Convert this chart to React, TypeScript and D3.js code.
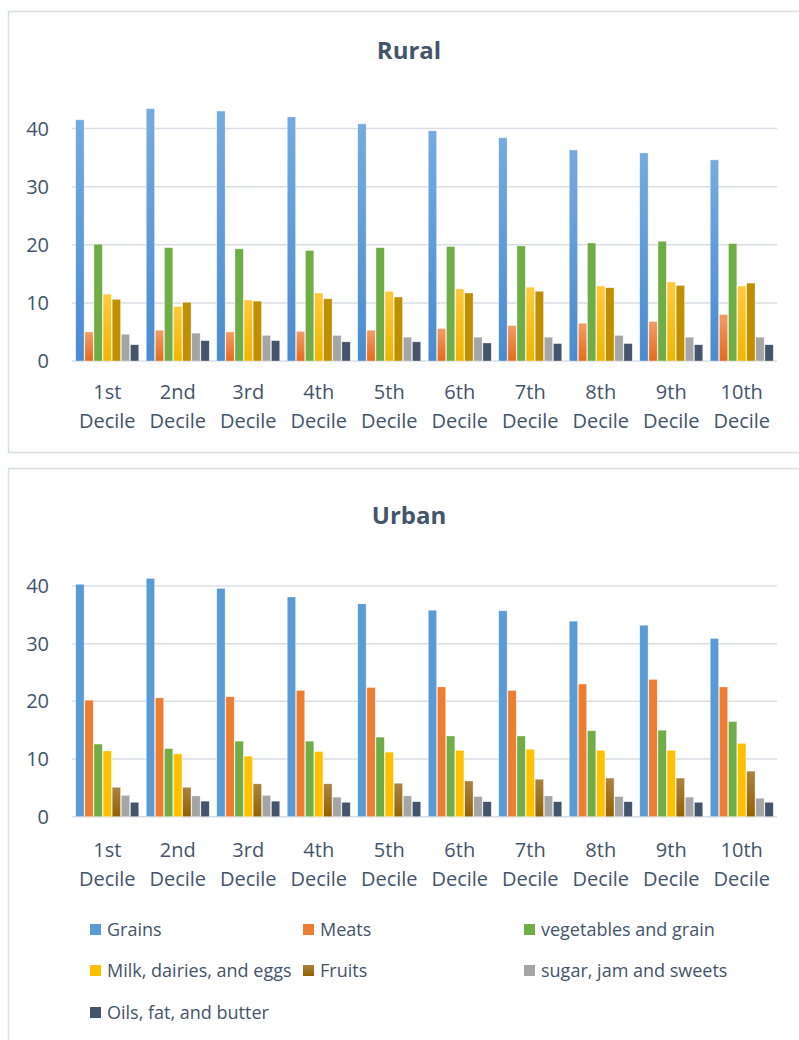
import React from "react";
import * as d3 from "d3";

const categories = ["1st Decile", "2nd Decile", "3rd Decile", "4th Decile", "5th Decile", "6th Decile", "7th Decile", "8th Decile", "9th Decile", "10th Decile"];
const seriesNames = ["Grains", "Meats", "vegetables and grain", "Milk, dairies, and eggs", "Fruits", "sugar, jam and sweets", "Oils, fat, and butter"];
const yTicks = [0, 10, 20, 30, 40];

const ruralGrains = [41.5, 43.4, 43.0, 42.0, 40.8, 39.6, 38.4, 36.3, 35.8, 34.6];
const ruralMeats = [5.0, 5.3, 5.0, 5.1, 5.3, 5.6, 6.1, 6.5, 6.8, 8.0];
const ruralVeg = [20.1, 19.5, 19.3, 19.0, 19.5, 19.7, 19.8, 20.3, 20.6, 20.2];
const ruralMilk = [11.5, 9.4, 10.5, 11.7, 12.0, 12.4, 12.7, 12.9, 13.6, 12.9];
const ruralFruits = [10.6, 10.1, 10.3, 10.7, 11.0, 11.7, 12.0, 12.6, 13.0, 13.4];
const ruralSugar = [4.6, 4.8, 4.4, 4.4, 4.1, 4.1, 4.1, 4.4, 4.1, 4.1];
const ruralOils = [2.8, 3.5, 3.5, 3.3, 3.3, 3.1, 3.0, 3.0, 2.8, 2.8];

const urbanGrains = [40.3, 41.3, 39.6, 38.1, 36.9, 35.8, 35.7, 33.9, 33.2, 30.9];
const urbanMeats = [20.2, 20.6, 20.8, 21.9, 22.4, 22.5, 21.9, 23.0, 23.8, 22.5];
const urbanVeg = [12.6, 11.8, 13.1, 13.1, 13.8, 14.0, 14.0, 14.9, 15.0, 16.5];
const urbanMilk = [11.4, 10.9, 10.5, 11.3, 11.2, 11.5, 11.7, 11.5, 11.5, 12.7];
const urbanFruits = [5.1, 5.1, 5.7, 5.7, 5.8, 6.2, 6.5, 6.7, 6.7, 7.9];
const urbanSugar = [3.7, 3.6, 3.7, 3.4, 3.6, 3.5, 3.6, 3.5, 3.4, 3.2];
const urbanOils = [2.5, 2.7, 2.7, 2.5, 2.6, 2.6, 2.6, 2.6, 2.5, 2.5];

const ruralSeries = [ruralGrains, ruralMeats, ruralVeg, ruralMilk, ruralFruits, ruralSugar, ruralOils];
const urbanSeries = [urbanGrains, urbanMeats, urbanVeg, urbanMilk, urbanFruits, urbanSugar, urbanOils];

const baseColors = ["#5B9BD5", "#ED7D31", "#70AD47", "#FFC000", "#9E6B16", "#A5A5A5", "#44546A"];
const ruralGrad = [
  ["#76AADF", "#4A8BD0"],
  ["#F29C66", "#E46B1B"],
  ["#70AD47", "#70AD47"],
  ["#FFC93F", "#EEB600"],
  ["#BF8F00", "#BF8F00"],
  ["#A5A5A5", "#A5A5A5"],
  ["#44546A", "#44546A"],
];
const urbanGrad = [
  ["#5B9BD5", "#5B9BD5"],
  ["#ED7D31", "#ED7D31"],
  ["#70AD47", "#70AD47"],
  ["#FFC000", "#FFC000"],
  ["#AA8442", "#926100"],
  ["#A5A5A5", "#A5A5A5"],
  ["#44546A", "#44546A"],
];

const TEXT = "#44546A";
const GRID = "#DADEE4";
const FONT = "'Open Sans', 'DejaVu Sans', sans-serif";

const x = d3.scaleBand<string>().domain(categories).range([72, 777]).paddingInner(0.106).paddingOuter(0.053);
const xi = d3.scaleBand<string>().domain(seriesNames).range([0, x.bandwidth()]).paddingInner(0.08);

function Panel({ title, series, grads, gid, y0, y40, titleY, lab1Y, lab2Y }: any) {
  const y = d3.scaleLinear().domain([0, 40]).range([y0, y40]);
  return (
    <g>
      <defs>
        {grads.map((g: string[], i: number) => (
          <linearGradient key={i} id={`${gid}${i}`} x1="0" y1="0" x2="0" y2="1">
            <stop offset="0" stopColor={g[0]} />
            <stop offset="1" stopColor={g[1]} />
          </linearGradient>
        ))}
      </defs>
      <text x={409} y={titleY} textAnchor="middle" fontFamily={FONT} fontWeight="bold" fontSize={24} fill={TEXT}>{title}</text>
      {yTicks.map((t) => (
        <g key={t}>
          <line x1={72} x2={777} y1={y(t)} y2={y(t)} stroke={GRID} strokeWidth={1.5} />
          <text x={49} y={y(t)} dy="0.35em" textAnchor="end" fontFamily={FONT} fontSize={20} fill={TEXT}>{t}</text>
        </g>
      ))}
      {categories.map((c, ci) => (
        <g key={c} transform={`translate(${x(c)},0)`}>
          {series.map((vals: number[], si: number) => (
            <rect key={si} x={xi(seriesNames[si])} width={xi.bandwidth()} y={y(vals[ci])} height={y(0) - y(vals[ci])}
              fill={`url(#${gid}${si})`} stroke="#ffffff" strokeOpacity={0.6} strokeWidth={0.6} />
          ))}
          <text x={x.bandwidth() / 2} y={lab1Y} textAnchor="middle" fontFamily={FONT} fontSize={20} fill={TEXT}>{c.split(" ")[0]}</text>
          <text x={x.bandwidth() / 2} y={lab2Y} textAnchor="middle" fontFamily={FONT} fontSize={20} fill={TEXT}>{c.split(" ")[1]}</text>
        </g>
      ))}
    </g>
  );
}

const legendCols = [90, 303, 524];
const legendRows = [930, 971, 1013];

export default function App() {
  return (
    <svg width={799} height={1040} style={{ position: "absolute", left: 0, top: 0, background: "#fff" }}>
      <rect x={8.5} y={11.5} width={820} height={441} fill="#fff" stroke="#D9DDE3" strokeWidth={1.5} />
      <rect x={8.5} y={468.5} width={820} height={600} fill="#fff" stroke="#D9DDE3" strokeWidth={1.5} />
      <Panel title="Rural" series={ruralSeries} grads={ruralGrad} gid="rg" y0={361} y40={128.5} titleY={59} lab1Y={399} lab2Y={428} />
      <Panel title="Urban" series={urbanSeries} grads={urbanGrad} gid="ug" y0={816.7} y40={586} titleY={524} lab1Y={857} lab2Y={886} />
      {seriesNames.map((s, i) => {
        const col = i % 3;
        const row = Math.floor(i / 3);
        const lx = legendCols[col];
        const ly = legendRows[row];
        return (
          <g key={s}>
            <rect x={lx} y={ly - 6} width={11} height={11} fill={i === 4 ? "url(#ug4)" : baseColors[i]} />
            <text x={lx + 17} y={ly} dy="0.35em" fontFamily={FONT} fontSize={18} fill={TEXT}>{s}</text>
          </g>
        );
      })}
    </svg>
  );
}
